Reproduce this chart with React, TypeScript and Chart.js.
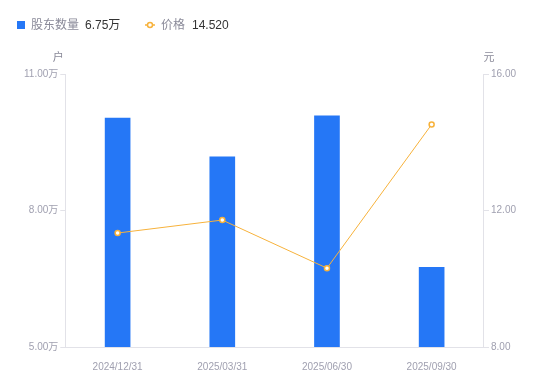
import React, { useEffect, useRef } from "react";
import { Chart, registerables } from "chart.js";

Chart.register(...registerables);

const categories = ["2024/12/31", "2025/03/31", "2025/06/30", "2025/09/30"];
const holders = [10.03, 9.18, 10.08, 6.75];
const prices = [11.34, 11.72, 10.31, 14.52];
const holderTicks = [5, 8, 11];
const priceTicks = [8, 12, 16];

const BLUE = "#2577f6";
const ORANGE = "#f7b23b";
const TICK = "#a0a0b0";
const AXIS = "#e2e2e8";
const FONT = "'Liberation Sans', 'Noto Sans CJK SC', sans-serif";

const overlay = {
  id: "overlay",
  afterDraw(chart: any) {
    const ctx = chart.ctx;
    ctx.save();
    ctx.textBaseline = "middle";
    const ly = 26;
    ctx.fillStyle = BLUE;
    ctx.fillRect(17, ly - 5, 8, 8);
    ctx.font = `12px ${FONT}`;
    ctx.textAlign = "left";
    ctx.fillStyle = "#8a8a99";
    ctx.fillText("股东数量", 31, ly);
    ctx.fillStyle = "#333";
    ctx.fillText(holders[holders.length - 1].toFixed(2) + "万", 85, ly);
    ctx.strokeStyle = ORANGE;
    ctx.lineWidth = 1.5;
    ctx.beginPath();
    ctx.moveTo(145, ly - 1);
    ctx.lineTo(155, ly - 1);
    ctx.stroke();
    ctx.beginPath();
    ctx.arc(150, ly - 1, 2.5, 0, Math.PI * 2);
    ctx.fillStyle = "#fff";
    ctx.fill();
    ctx.stroke();
    ctx.fillStyle = "#8a8a99";
    ctx.fillText("价格", 161, ly);
    ctx.fillStyle = "#333";
    ctx.fillText(prices[prices.length - 1].toFixed(3), 192, ly);
    const area = chart.chartArea;
    ctx.font = `11px ${FONT}`;
    ctx.fillStyle = "#8a8a99";
    ctx.textAlign = "center";
    ctx.fillText("户", area.left - 7, 58);
    ctx.fillText("元", area.right + 5, 58);
    ctx.restore();
  },
};

export default function App() {
  const ref = useRef<HTMLCanvasElement>(null);
  useEffect(() => {
    const chart = new Chart(ref.current!, {
      type: "bar",
      data: {
        labels: categories,
        datasets: [
          {
            type: "line",
            label: "价格",
            data: prices,
            yAxisID: "y1",
            borderColor: ORANGE,
            borderWidth: 1,
            pointRadius: 2.5,
            pointBorderWidth: 1.5,
            pointBackgroundColor: "#fff",
            pointBorderColor: ORANGE,
            tension: 0,
            order: 0,
          } as any,
          {
            type: "bar",
            label: "股东数量",
            data: holders,
            yAxisID: "y",
            backgroundColor: BLUE,
            barThickness: 25,
            order: 1,
          },
        ],
      },
      options: {
        responsive: false,
        animation: false,
        layout: { padding: { left: 22, right: 32, top: 74, bottom: 2 } },
        plugins: { legend: { display: false }, tooltip: { enabled: false } },
        scales: {
          x: {
            grid: { display: false },
            border: { display: true, color: AXIS },
            ticks: { color: TICK, font: { size: 10, family: FONT }, padding: 6 },
          },
          y: {
            position: "left",
            min: 5,
            max: 11,
            afterBuildTicks: (s: any) => {
              s.ticks = holderTicks.map((v) => ({ value: v }));
            },
            grid: { drawOnChartArea: false, tickLength: 5, color: AXIS },
            border: { color: AXIS },
            ticks: {
              color: TICK,
              font: { size: 10, family: FONT },
              padding: 2,
              callback: (v: any) => Number(v).toFixed(2) + "万",
            },
          },
          y1: {
            position: "right",
            min: 8,
            max: 16,
            afterBuildTicks: (s: any) => {
              s.ticks = priceTicks.map((v) => ({ value: v }));
            },
            grid: { drawOnChartArea: false, tickLength: 5, color: AXIS },
            border: { color: AXIS },
            ticks: {
              color: TICK,
              font: { size: 10, family: FONT },
              padding: 2,
              callback: (v: any) => Number(v).toFixed(2),
            },
          },
        },
      },
      plugins: [overlay],
    });
    return () => chart.destroy();
  }, []);
  return (
    <canvas
      ref={ref}
      width={550}
      height={381}
      style={{ position: "absolute", left: 0, top: 0 }}
    />
  );
}
